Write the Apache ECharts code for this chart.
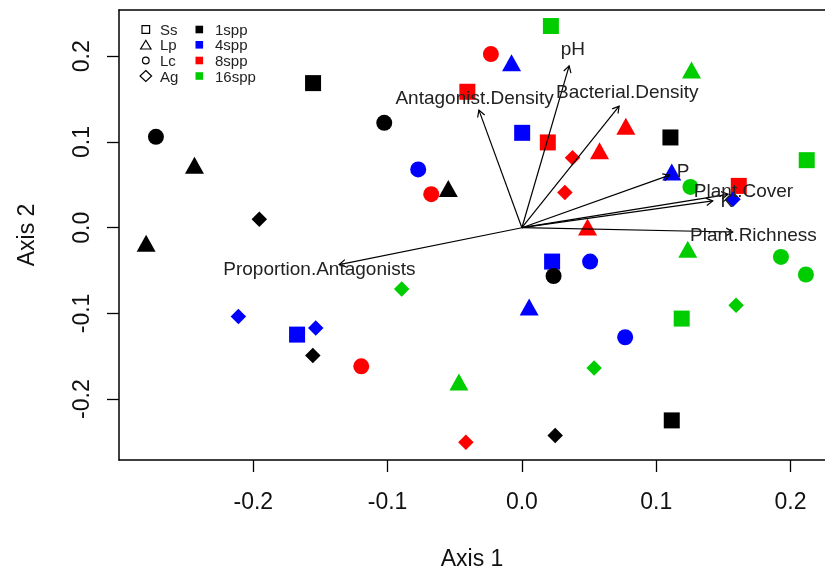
<!DOCTYPE html>
<html><head><meta charset="utf-8">
<script src="https://cdn.jsdelivr.net/npm/echarts@6/dist/echarts.min.js"></script>
<style>html,body{margin:0;padding:0;background:#fff}#c{width:825px;height:571px}</style>
</head><body><div id="c"></div><script>
// ---- data ----
const groupNames = ['1spp', '4spp', '8spp', '16spp'];
const groupColors = ['#000000', '#0000ff', '#ff0000', '#00cd00'];
const shapeNames = ['Ss', 'Lp', 'Lc', 'Ag'];

// [Axis 1, Axis 2, group index]
const ssPoints = [
  [-0.1555, 0.1687, 0], [0.1106, 0.1053, 0], [0.1116, -0.2248, 0],
  [0.0002, 0.1107, 1], [0.0225, -0.0395, 1], [-0.1674, -0.1247, 1],
  [-0.0406, 0.1586, 2], [0.0193, 0.0995, 2], [0.1615, 0.0488, 2],
  [0.0216, 0.2353, 3], [0.2121, 0.0788, 3], [0.1190, -0.1060, 3]
];
const lpPoints = [
  [-0.2438, 0.0730, 0], [-0.0548, 0.0458, 0], [-0.2798, -0.0181, 0],
  [-0.0077, 0.1924, 1], [0.1116, 0.0651, 1], [0.0054, -0.0925, 1],
  [0.0774, 0.1185, 2], [0.0578, 0.0897, 2], [0.0489, 0.0009, 2],
  [0.1263, 0.1839, 3], [0.1235, -0.0251, 3], [-0.0469, -0.1800, 3]
];
const lcPoints = [
  [-0.2725, 0.1060, 0], [-0.1025, 0.1224, 0], [0.0236, -0.0563, 0],
  [-0.0772, 0.0680, 1], [0.0508, -0.0395, 1], [0.0769, -0.1278, 1],
  [-0.0231, 0.2026, 2], [-0.0675, 0.0391, 2], [-0.1196, -0.1617, 2],
  [0.1255, 0.0476, 3], [0.1929, -0.0341, 3], [0.2115, -0.0546, 3]
];
const agPoints = [
  [-0.1955, 0.0099, 0], [-0.1557, -0.1492, 0], [0.0248, -0.2423, 0],
  [0.1572, 0.0333, 1], [-0.2111, -0.1037, 1], [-0.1535, -0.1170, 1],
  [0.0377, 0.0815, 2], [0.0320, 0.0411, 2], [-0.0417, -0.2504, 2],
  [0.1595, -0.0905, 3], [-0.0895, -0.0715, 3], [0.0538, -0.1637, 3]
];

const vectorNames = ['pH', 'Bacterial.Density', 'Antagonist.Density', 'P', 'Plant.Cover', 'K', 'Plant.Richness', 'Proportion.Antagonists'];
const vectorTips = [
  [0.0352, 0.1889], [0.0724, 0.1419], [-0.0320, 0.1372], [0.1100, 0.0613],
  [0.1535, 0.0390], [0.1421, 0.0313], [0.1570, -0.0050], [-0.1360, -0.0430]
];
const vectorLabels = [
  [0.0380, 0.2080], [0.0785, 0.1574], [-0.0352, 0.1508], [0.1200, 0.0650],
  [0.1650, 0.0418], [0.1526, 0.0298], [0.1724, -0.0099], [-0.1508, -0.0496]
];

const xTicks = [-0.2, -0.1, 0.0, 0.1, 0.2];
const yTicks = [-0.2, -0.1, 0.0, 0.1, 0.2];

// ---- chart ----
const FONT = '"Liberation Sans", Arial, sans-serif';
const chart = echarts.init(document.getElementById('c'), null, {renderer: 'canvas'});

function ptSeries(name, data, symbol, size) {
  return {
    name: name, type: 'scatter', data: data, symbol: symbol, symbolSize: size,
    itemStyle: {color: p => groupColors[p.data[2]], opacity: 1},
    emphasis: {disabled: true}, z: 2, animation: false
  };
}

const legendGraphics = [];
const rowsY = [29.5, 44.8, 60.5, 76];
const openStyle = {fill: 'none', stroke: '#000', lineWidth: 1.2};
legendGraphics.push({type: 'rect', shape: {x: 142, y: rowsY[0] - 3.8, width: 7.6, height: 7.6}, style: openStyle});
legendGraphics.push({type: 'polygon', shape: {points: [[140.6, rowsY[1] + 4.2], [151, rowsY[1] + 4.2], [145.8, rowsY[1] - 4.5]]}, style: openStyle});
legendGraphics.push({type: 'circle', shape: {cx: 145.8, cy: rowsY[2], r: 3.3}, style: openStyle});
legendGraphics.push({type: 'polygon', shape: {points: [[145.8, rowsY[3] - 5.5], [151.6, rowsY[3]], [145.8, rowsY[3] + 5.5], [140, rowsY[3]]]}, style: openStyle});
shapeNames.forEach((s, i) => {
  legendGraphics.push({type: 'text', x: 160, y: rowsY[i] + 1.5, style: {text: s, font: '15px ' + FONT, fill: '#222', textVerticalAlign: 'middle'}});
});
groupNames.forEach((g, i) => {
  legendGraphics.push({type: 'rect', shape: {x: 195.5, y: rowsY[i] - 3.8, width: 7.6, height: 7.6}, style: {fill: groupColors[i]}});
  legendGraphics.push({type: 'text', x: 215, y: rowsY[i] + 1.5, style: {text: g, font: '15px ' + FONT, fill: '#222', textVerticalAlign: 'middle'}});
});

const axisLineStyle = {color: '#000', width: 1.5};
const option = {
  animation: false,
  backgroundColor: '#fff',
  grid: {left: 119, right: 0, top: 10, bottom: 111, show: false, containLabel: false, outerBoundsMode: 'none'},
  xAxis: [{
    type: 'value', min: -0.3, max: 0.2257, position: 'bottom',
    splitLine: {show: false},
    axisLine: {show: true, onZero: false, lineStyle: axisLineStyle},
    axisTick: {show: true, length: 12, lineStyle: {color: '#000', width: 1.3}, customValues: xTicks},
    axisLabel: {customValues: xTicks, formatter: v => v.toFixed(1), fontSize: 23, fontFamily: FONT, color: '#111', margin: 31},
    name: 'Axis 1', nameLocation: 'middle', nameGap: 88,
    nameTextStyle: {fontSize: 23, fontFamily: FONT, color: '#111'}
  }, {
    type: 'value', min: -0.3, max: 0.2257, position: 'top',
    splitLine: {show: false},
    axisLine: {show: true, onZero: false, lineStyle: axisLineStyle},
    axisTick: {show: false}, axisLabel: {show: false}
  }],
  yAxis: {
    type: 'value', min: -0.271, max: 0.254,
    splitLine: {show: false},
    axisLine: {show: true, onZero: false, lineStyle: axisLineStyle},
    axisTick: {show: true, length: 12, lineStyle: {color: '#000', width: 1.3}, customValues: yTicks},
    axisLabel: {customValues: yTicks, formatter: v => v.toFixed(1), rotate: 90, fontSize: 23, fontFamily: FONT, color: '#111', margin: 25},
    name: 'Axis 2', nameLocation: 'middle', nameGap: 80, nameRotate: 90,
    nameTextStyle: {fontSize: 23, fontFamily: FONT, color: '#111'}
  },
  graphic: legendGraphics,
  series: [
    ptSeries('Ss', ssPoints, 'rect', 16),
    ptSeries('Lp', lpPoints, 'triangle', [19, 17]),
    ptSeries('Lc', lcPoints, 'circle', 16),
    ptSeries('Ag', agPoints, 'diamond', [15.5, 15.5]),
    {
      type: 'custom', name: 'vectors', z: 5,
      data: vectorTips,
      renderItem: function (params, api) {
        const o = api.coord([0, 0]);
        const t = api.coord([api.value(0), api.value(1)]);
        const ang = Math.atan2(t[1] - o[1], t[0] - o[0]);
        const L = 7.5, a = Math.PI / 6;
        const h1 = [t[0] - L * Math.cos(ang - a), t[1] - L * Math.sin(ang - a)];
        const h2 = [t[0] - L * Math.cos(ang + a), t[1] - L * Math.sin(ang + a)];
        const st = {stroke: '#000', lineWidth: 1.2, fill: 'none'};
        return {type: 'group', children: [
          {type: 'line', shape: {x1: o[0], y1: o[1], x2: t[0], y2: t[1]}, style: st},
          {type: 'polyline', shape: {points: [h1, t, h2]}, style: st}
        ]};
      },
      animation: false
    },
    {
      type: 'custom', name: 'vectorLabels', z: 6,
      data: vectorLabels.map((p, i) => [p[0], p[1], i]),
      renderItem: function (params, api) {
        const c = api.coord([api.value(0), api.value(1)]);
        return {type: 'text', x: c[0], y: c[1], style: {
          text: vectorNames[api.value(2)], font: '19px ' + FONT, fill: '#222',
          textAlign: 'center', textVerticalAlign: 'middle'}};
      },
      animation: false
    }
  ]
};
chart.setOption(option);
</script></body></html>
